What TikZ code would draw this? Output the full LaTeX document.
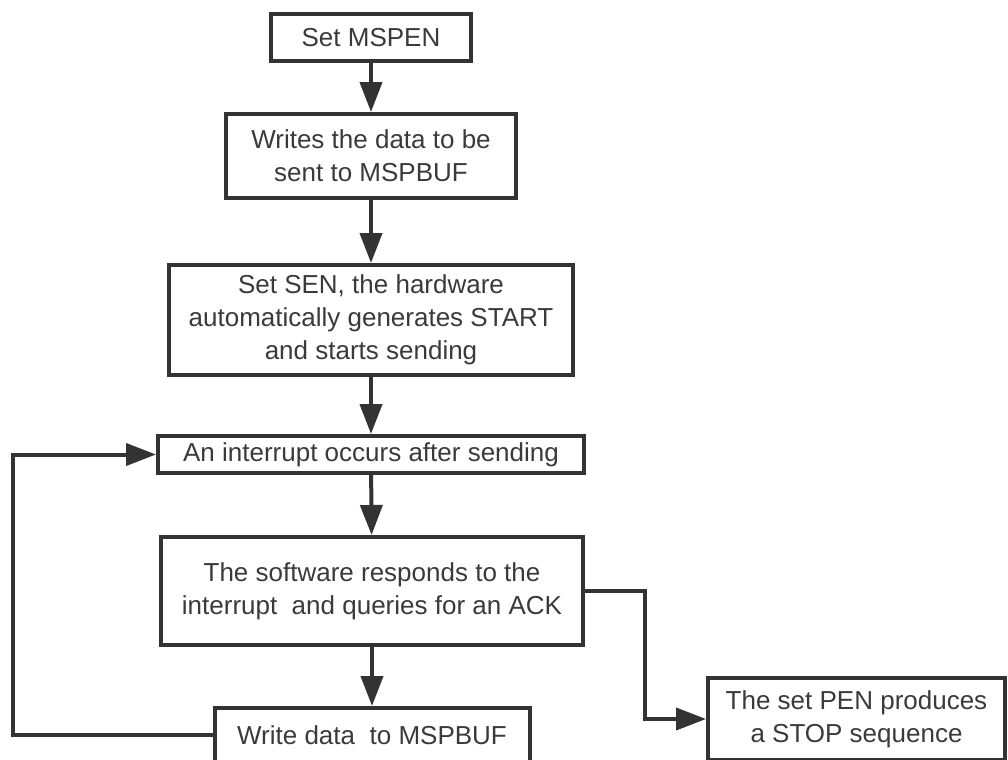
\documentclass[tikz,border=0pt]{standalone}
\usepackage{fontspec}
\setmainfont{Liberation Sans}
\usetikzlibrary{arrows.meta,positioning}
\definecolor{ink}{HTML}{333333}
\definecolor{txt}{HTML}{3A3A3A}

\begin{document}
\begin{tikzpicture}[x=0.5pt,y=-0.5pt,font=\fontsize{13}{16.5}\selectfont,
  box/.style={draw=ink,line width=2pt,text=txt,align=center,inner sep=0pt},
  flow/.style={ink,line width=2pt,-{Triangle[length=15pt,width=11pt]}}]
\useasboundingbox (0,0) rectangle (1008,760);
% main column
\node[box,minimum width=100pt,minimum height=23.5pt] (mspen) at (371,37.5) {Set MSPEN};
\node[box,minimum width=145pt,minimum height=42pt] (wbuf) at (371,156) {Writes the data to be\\sent to MSPBUF};
\node[box,minimum width=202pt,minimum height=55pt] (sen) at (371,320) {Set SEN, the hardware\\automatically generates START\\and starts sending};
\node[box,minimum width=213pt,minimum height=18.5pt] (irq) at (371,454.5) {An interrupt occurs after sending};
\node[box,minimum width=211pt,minimum height=54pt] (ack) at (372,591) {The software responds to the\\interrupt~ and queries for an ACK};
\node[box,minimum width=157.5pt,minimum height=27pt] (wdata) at (372,735) {Write data~ to MSPBUF};
\node[box,minimum width=148.5pt,minimum height=41pt] (stop) at (856.5,719) {The set PEN produces\\a STOP sequence};
\coordinate (loop) at (13,0);
\coordinate (bend) at (645,0);
% connectors
\draw[flow] (mspen) -- (wbuf);
\draw[flow] (wbuf) -- (sen);
\draw[flow] (sen) -- (irq);
\draw[flow] (irq) -- (ack);
\draw[flow] (ack) -- (wdata);
\draw[flow] (wdata.west) -- (wdata.west -| loop) -- (irq.west -| loop) -- (irq.west);
\draw[flow] (ack.east) -- (ack.east -| bend) -- (stop.west -| bend) -- (stop.west);
\end{tikzpicture}
\end{document}
